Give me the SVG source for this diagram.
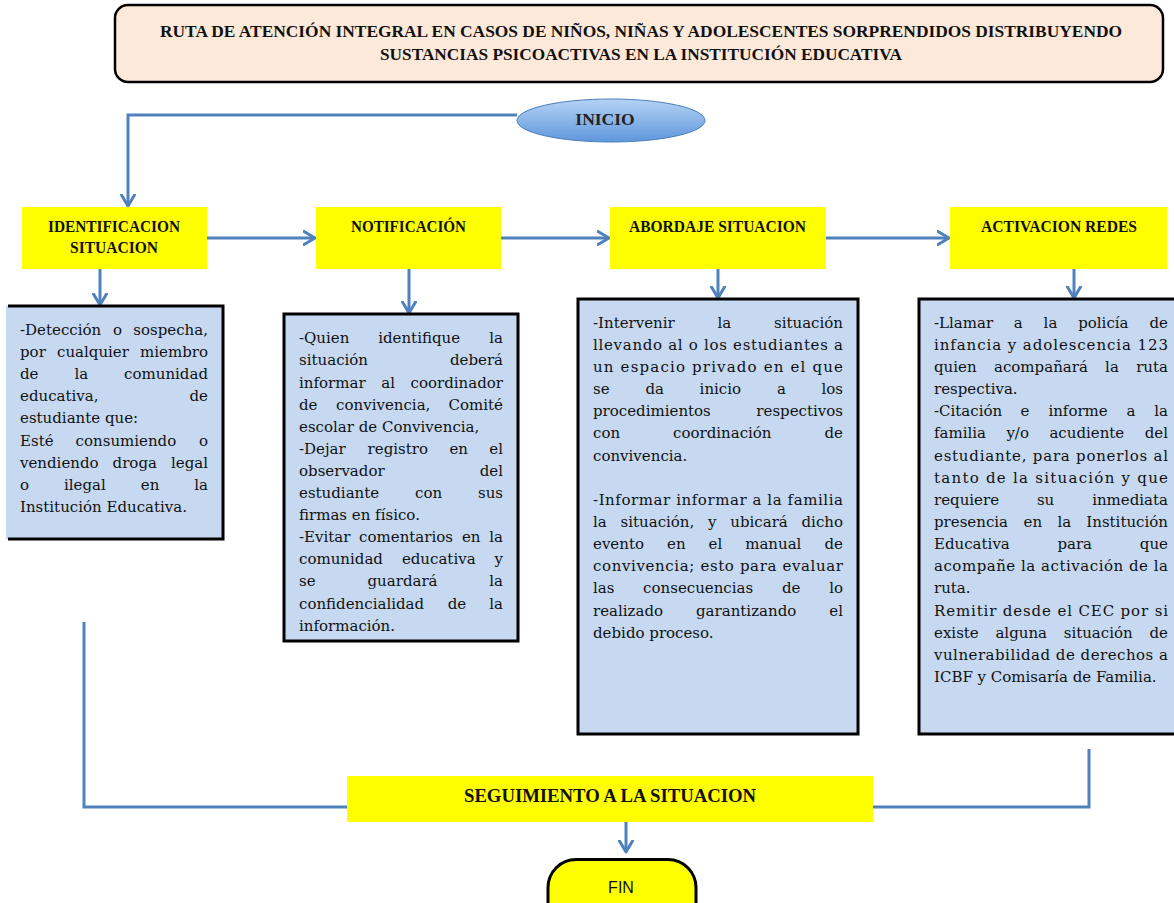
<svg xmlns="http://www.w3.org/2000/svg" width="1174" height="903" viewBox="0 0 1174 903">
<defs>
<linearGradient id="gInicio" x1="0" y1="0" x2="0" y2="1">
<stop offset="0" stop-color="#b5d2f5"/>
<stop offset="1" stop-color="#5f97dc"/>
</linearGradient>
<marker id="arr" viewBox="0 0 14 16" refX="12.5" refY="8" markerWidth="14" markerHeight="16" markerUnits="userSpaceOnUse" orient="auto">
<path d="M1.5,1.5 L12.5,8 L1.5,14.5" fill="none" stroke="#4f81bd" stroke-width="3" stroke-linecap="round" stroke-linejoin="round"/>
</marker>
</defs>
<style>
.con{fill:none;stroke:#4f81bd;stroke-width:3}
.yel{fill:#ffff00}
.bord{fill:#c6d9f1;stroke:#000;stroke-width:3}
.hd{font-family:"Liberation Serif","DejaVu Serif",serif;font-weight:bold;font-size:16px;fill:#111;text-anchor:middle}
.t{font-family:"DejaVu Serif","Liberation Serif",serif;font-size:15px;fill:#111}
.e{text-anchor:end}
</style>
<rect width="1174" height="903" fill="#fff"/>

<g id="title">
<rect x="115" y="5" width="1048" height="77" rx="13" fill="#fde9d9" stroke="#000" stroke-width="2.5"/>
<text class="hd" x="160" y="37" style="text-anchor:start" textLength="962" lengthAdjust="spacingAndGlyphs">RUTA DE ATENCIÓN INTEGRAL EN CASOS DE NIÑOS, NIÑAS Y ADOLESCENTES SORPRENDIDOS  DISTRIBUYENDO</text>
<text class="hd" x="380" y="60" style="text-anchor:start" textLength="522" lengthAdjust="spacingAndGlyphs">SUSTANCIAS PSICOACTIVAS EN LA INSTITUCIÓN EDUCATIVA</text>
</g>

<g id="connectors">
<path class="con" d="M517,115 H128 V206" marker-end="url(#arr)"/>
<path class="con" d="M207,238 H315" marker-end="url(#arr)"/>
<path class="con" d="M501,238 H609" marker-end="url(#arr)"/>
<path class="con" d="M826,238 H949" marker-end="url(#arr)"/>
<path class="con" d="M100,269 V305" marker-end="url(#arr)"/>
<path class="con" d="M409,269 V313" marker-end="url(#arr)"/>
<path class="con" d="M718,269 V298" marker-end="url(#arr)"/>
<path class="con" d="M1074,269 V298" marker-end="url(#arr)"/>
<path class="con" d="M84,622 V807 H347"/>
<path class="con" d="M1089,749 V807 H873"/>
<path class="con" d="M626,822 V852" marker-end="url(#arr)"/>
</g>

<g id="inicio">
<ellipse cx="611" cy="120.5" rx="94" ry="21.5" fill="url(#gInicio)" stroke="#4a7ebb" stroke-width="1"/>
<text x="605" y="125" font-family="Liberation Serif, serif" font-weight="bold" font-size="17.5" fill="#222" text-anchor="middle">INICIO</text>
</g>

<g id="identificacion">
<rect class="yel" x="22" y="207" width="185" height="62"/>
<text class="hd" x="114" y="232" textLength="132" lengthAdjust="spacingAndGlyphs">IDENTIFICACION</text>
<text class="hd" x="114" y="253" textLength="88" lengthAdjust="spacingAndGlyphs">SITUACION</text>
</g>

<g id="notificacion">
<rect class="yel" x="316" y="207" width="185" height="62"/>
<text class="hd" x="408.5" y="232" textLength="115" lengthAdjust="spacingAndGlyphs">NOTIFICACIÓN</text>
</g>

<g id="abordaje">
<rect class="yel" x="610" y="207" width="216" height="62"/>
<text class="hd" x="717.5" y="232" textLength="177" lengthAdjust="spacingAndGlyphs">ABORDAJE SITUACION</text>
</g>

<g id="activacion">
<rect class="yel" x="950" y="207" width="217" height="62"/>
<text class="hd" x="1059" y="232" textLength="156" lengthAdjust="spacingAndGlyphs">ACTIVACION REDES</text>
</g>

<g id="box-identificacion">
<rect x="6" y="306" width="217" height="233" fill="#c6d9f1"/>
<path d="M8,306 H223 V539 H8" fill="none" stroke="#000" stroke-width="3"/>
<text class="t" x="20" y="335">-Detección</text><text class="t" x="113" y="335">o</text><text class="t e" x="208" y="335">sospecha,</text>
<text class="t" x="20" y="357.1">por</text><text class="t" x="57" y="357.1">cualquier</text><text class="t e" x="208" y="357.1">miembro</text>
<text class="t" x="20" y="379.2">de</text><text class="t" x="74.4" y="379.2">la</text><text class="t e" x="208" y="379.2">comunidad</text>
<text class="t" x="20" y="401.3">educativa,</text><text class="t e" x="208" y="401.3">de</text>
<text class="t" x="20" y="423.4">estudiante que:</text>
<text class="t" x="20" y="445.5">Esté</text><text class="t" x="75.6" y="445.5">consumiendo</text><text class="t e" x="208" y="445.5">o</text>
<text class="t" x="20" y="467.6">vendiendo</text><text class="t" x="112.6" y="467.6">droga</text><text class="t e" x="208" y="467.6">legal</text>
<text class="t" x="20" y="489.7">o</text><text class="t" x="64" y="489.7">ilegal</text><text class="t" x="140.8" y="489.7">en</text><text class="t e" x="208" y="489.7">la</text>
<text class="t" x="20" y="511.8">Institución Educativa.</text>
</g>

<g id="box-notificacion">
<rect class="bord" x="284" y="314" width="234" height="327"/>
<text class="t" x="299" y="343.3">-Quien</text><text class="t" x="378.2" y="343.3">identifique</text><text class="t e" x="503" y="343.3">la</text>
<text class="t" x="299" y="365.4">situación</text><text class="t e" x="503" y="365.4">deberá</text>
<text class="t" x="299" y="387.5">informar</text><text class="t" x="381.2" y="387.5">al</text><text class="t e" x="503" y="387.5">coordinador</text>
<text class="t" x="299" y="409.6">de</text><text class="t" x="336.1" y="409.6">convivencia,</text><text class="t e" x="503" y="409.6">Comité</text>
<text class="t" x="299" y="431.7">escolar de Convivencia,</text>
<text class="t" x="299" y="453.8">-Dejar</text><text class="t" x="367.6" y="453.8">registro</text><text class="t" x="449.4" y="453.8">en</text><text class="t e" x="503" y="453.8">el</text>
<text class="t" x="299" y="475.9">observador</text><text class="t e" x="503" y="475.9">del</text>
<text class="t" x="299" y="498">estudiante</text><text class="t" x="415" y="498">con</text><text class="t e" x="503" y="498">sus</text>
<text class="t" x="299" y="520.1">firmas en físico.</text>
<text class="t" x="299" y="542.2">-Evitar</text><text class="t" x="359.1" y="542.2">comentarios</text><text class="t" x="461.9" y="542.2">en</text><text class="t e" x="503" y="542.2">la</text>
<text class="t" x="299" y="564.3">comunidad</text><text class="t" x="401.9" y="564.3">educativa</text><text class="t e" x="503" y="564.3">y</text>
<text class="t" x="299" y="586.4">se</text><text class="t" x="367.5" y="586.4">guardará</text><text class="t e" x="503" y="586.4">la</text>
<text class="t" x="299" y="608.5">confidencialidad</text><text class="t" x="447.7" y="608.5">de</text><text class="t e" x="503" y="608.5">la</text>
<text class="t" x="299" y="630.6">información.</text>
</g>

<g id="box-abordaje">
<rect class="bord" x="578" y="299" width="280" height="435"/>
<text class="t" x="593" y="327.7">-Intervenir</text><text class="t" x="717.4" y="327.7">la</text><text class="t e" x="843" y="327.7">situación</text>
<text class="t" x="593" y="349.8" textLength="250" lengthAdjust="spacing">llevando al o los estudiantes a</text>
<text class="t" x="593" y="372" textLength="250" lengthAdjust="spacing">un espacio privado en el que</text>
<text class="t" x="593" y="394.1">se</text><text class="t" x="645.4" y="394.1">da</text><text class="t" x="699.6" y="394.1">inicio</text><text class="t" x="776.9" y="394.1">a</text><text class="t e" x="843" y="394.1">los</text>
<text class="t" x="593" y="416.3">procedimientos</text><text class="t e" x="843" y="416.3">respectivos</text>
<text class="t" x="593" y="438.4">con</text><text class="t" x="673" y="438.4">coordinación</text><text class="t e" x="843" y="438.4">de</text>
<text class="t" x="593" y="460.5">convivencia.</text>
<text class="t" x="593" y="504.8" textLength="250" lengthAdjust="spacing">-Informar informar a la familia</text>
<text class="t" x="593" y="527">la</text><text class="t" x="620.5" y="527">situación,</text><text class="t" x="708" y="527">y</text><text class="t" x="730.3" y="527">ubicará</text><text class="t e" x="843" y="527">dicho</text>
<text class="t" x="593" y="549.1">evento</text><text class="t" x="667" y="549.1">en</text><text class="t" x="708.5" y="549.1">el</text><text class="t" x="745.2" y="549.1">manual</text><text class="t e" x="843" y="549.1">de</text>
<text class="t" x="593" y="571.2" textLength="250" lengthAdjust="spacing">convivencia; esto para evaluar</text>
<text class="t" x="593" y="593.4">las</text><text class="t" x="643.1" y="593.4">consecuencias</text><text class="t" x="781.9" y="593.4">de</text><text class="t e" x="843" y="593.4">lo</text>
<text class="t" x="593" y="615.5">realizado</text><text class="t" x="696" y="615.5">garantizando</text><text class="t e" x="843" y="615.5">el</text>
<text class="t" x="593" y="637.7">debido proceso.</text>
</g>

<g id="box-activacion">
<rect class="bord" x="919" y="299" width="262" height="435"/>
<text class="t" x="934" y="327.7">-Llamar</text><text class="t" x="1013.8" y="327.7">a</text><text class="t" x="1043.6" y="327.7">la</text><text class="t" x="1078.2" y="327.7">policía</text><text class="t e" x="1168" y="327.7">de</text>
<text class="t" x="934" y="349.8" textLength="234" lengthAdjust="spacing">infancia y adolescencia 123</text>
<text class="t" x="934" y="372">quien</text><text class="t" x="994" y="372">acompañará</text><text class="t" x="1105.1" y="372">la</text><text class="t e" x="1168" y="372">ruta</text>
<text class="t" x="934" y="394.1">respectiva.</text>
<text class="t" x="934" y="416.3">-Citación</text><text class="t" x="1020.6" y="416.3">e</text><text class="t" x="1048.4" y="416.3">informe</text><text class="t" x="1126.6" y="416.3">a</text><text class="t e" x="1168" y="416.3">la</text>
<text class="t" x="934" y="438.4">familia</text><text class="t" x="1006.4" y="438.4">y/o</text><text class="t" x="1049.4" y="438.4">acudiente</text><text class="t e" x="1168" y="438.4">del</text>
<text class="t" x="934" y="460.5" textLength="234" lengthAdjust="spacing">estudiante, para ponerlos al</text>
<text class="t" x="934" y="482.7" textLength="234" lengthAdjust="spacing">tanto de la situación y que</text>
<text class="t" x="934" y="504.8">requiere</text><text class="t" x="1036.9" y="504.8">su</text><text class="t e" x="1168" y="504.8">inmediata</text>
<text class="t" x="934" y="527">presencia</text><text class="t" x="1023.5" y="527">en</text><text class="t" x="1057.5" y="527">la</text><text class="t e" x="1168" y="527">Institución</text>
<text class="t" x="934" y="549.1">Educativa</text><text class="t" x="1057.4" y="549.1">para</text><text class="t e" x="1168" y="549.1">que</text>
<text class="t" x="934" y="571.2" textLength="234" lengthAdjust="spacing">acompañe la activación de la</text>
<text class="t" x="934" y="593.4">ruta.</text>
<text class="t" x="934" y="615.5" textLength="234" lengthAdjust="spacing">Remitir desde el CEC por si</text>
<text class="t" x="934" y="637.7">existe</text><text class="t" x="995.4" y="637.7">alguna</text><text class="t" x="1063.7" y="637.7">situación</text><text class="t e" x="1168" y="637.7">de</text>
<text class="t" x="934" y="659.8" textLength="234" lengthAdjust="spacing">vulnerabilidad de derechos a</text>
<text class="t" x="934" y="682">ICBF y Comisaría de Familia.</text>
</g>

<g id="seguimiento">
<rect class="yel" x="347" y="776" width="526" height="46"/>
<text class="hd" x="610" y="802" style="font-size:18px" textLength="292" lengthAdjust="spacingAndGlyphs">SEGUIMIENTO A LA SITUACION</text>
</g>

<g id="fin">
<rect x="548" y="859.5" width="148" height="70" rx="28" ry="28" fill="#ffff00" stroke="#000" stroke-width="3"/>
<text x="621" y="893" font-family="Liberation Sans, Arial, sans-serif" font-size="16" fill="#111" text-anchor="middle">FIN</text>
</g>
</svg>
